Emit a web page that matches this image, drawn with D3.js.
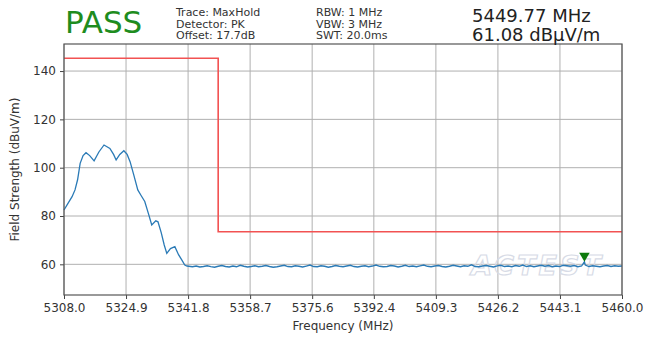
<!DOCTYPE html>
<html>
<head>
<meta charset="utf-8">
<script src="https://cdn.jsdelivr.net/npm/d3@7"></script>
<style>
  body { margin: 0; background: #fff; }
  svg text { font-family: "DejaVu Sans", sans-serif; }
</style>
</head>
<body>
<div id="chart"></div>
<script>
const WIDTH = 658;
const HEIGHT = 337;
const MARGIN = { top: 44, right: 36, bottom: 42, left: 64 };

// tick labels
const xTicks = [5308.0, 5324.9, 5341.8, 5358.7, 5375.6, 5392.4, 5409.3, 5426.2, 5443.1, 5460.0];
const yTicks = [60, 80, 100, 120, 140];

// emission hump (MHz, dBuV/m)
const humpFreq = [5308.0, 5309.0, 5310.2, 5311.0, 5311.7, 5312.4, 5313.2, 5314.0, 5315.0, 5316.2,
                  5317.5, 5318.9, 5320.5, 5321.5, 5322.2, 5323.2, 5324.3, 5325.2, 5326.0, 5327.0,
                  5328.1, 5329.0, 5330.0, 5331.0, 5331.9, 5333.0, 5333.6, 5334.5, 5335.3, 5336.0,
                  5337.0, 5338.2, 5339.2, 5340.2, 5340.9, 5341.5];
const humpLevel = [82.5, 85.0, 88.0, 90.8, 95.0, 101.8, 105.0, 106.2, 105.0, 102.8,
                   106.5, 109.4, 108.0, 105.5, 103.2, 105.5, 107.0, 105.5, 102.5, 97.0,
                   90.8, 88.5, 86.0, 81.0, 76.3, 78.0, 77.6, 73.0, 68.0, 64.5,
                   66.5, 67.3, 64.0, 61.5, 59.7, 59.3];

// noise floor, 1 MHz steps from 5342 to 5460
const floorStart = 5342;
const floorStep = 1;
const floorLevel = [
  59.2,59.0,59.3,58.9,59.1,59.4,59.0,58.8,59.2,59.5,
  59.1,58.9,59.3,59.0,59.6,59.2,58.9,59.1,59.4,59.0,
  59.2,59.5,59.1,58.8,59.0,59.3,59.6,59.1,59.0,59.4,
  59.2,58.9,59.3,59.7,59.1,59.0,59.4,59.2,58.8,59.1,
  59.5,59.2,59.0,59.3,59.6,59.1,58.9,59.2,59.4,59.0,
  59.3,59.7,59.2,59.0,59.1,59.5,59.3,58.9,59.2,59.6,
  59.1,59.3,59.0,59.4,59.7,59.2,59.0,59.3,59.5,59.1,
  58.9,59.2,59.6,59.3,59.0,59.4,59.2,59.8,59.1,59.0,
  59.3,59.5,59.2,58.9,59.4,59.6,59.1,59.3,59.0,59.5,
  59.2,59.7,59.1,59.4,59.0,59.3,59.6,59.2,59.5,59.0,
  59.3,59.1,59.6,59.4,59.2,59.5,59.0,59.3,59.7,59.1,
  59.4,59.2,59.0,59.3,59.5,59.1,59.4,59.2,59.3
];

// limit line
const limitFreq = [5308.0, 5350.0, 5350.0, 5460.0];
const limitLevel = [145.3, 145.3, 73.5, 73.5];

// marker
const markerFreq = 5449.77;
const markerLevel = 61.08;

const infoCol1 = ["Trace: MaxHold", "Detector: PK", "Offset: 17.7dB"];
const infoCol2 = ["RBW: 1 MHz", "VBW: 3 MHz", "SWT: 20.0ms"];
const markerText = ["5449.77 MHz", "61.08 dBµV/m"];

const trace = humpFreq.map((f, i) => [f, humpLevel[i]])
  .concat(floorLevel.map((v, i) => [floorStart + i * floorStep, v]))
  .concat([[markerFreq, markerLevel]])
  .sort((a, b) => a[0] - b[0]);

const innerW = WIDTH - MARGIN.left - MARGIN.right;
const innerH = HEIGHT - MARGIN.top - MARGIN.bottom;

const svg = d3.select("#chart").append("svg")
  .attr("width", WIDTH)
  .attr("height", HEIGHT);

const x = d3.scaleLinear().domain([5308, 5460]).range([0, innerW]);
const y = d3.scaleLinear().domain([47.3, 151.2]).range([innerH, 0]);

const g = svg.append("g")
  .attr("transform", `translate(${MARGIN.left},${MARGIN.top})`);

// grid
g.append("g").selectAll("line").data(xTicks).join("line")
  .attr("x1", d => x(d)).attr("x2", d => x(d))
  .attr("y1", 0).attr("y2", innerH)
  .attr("stroke", "#b0b0b0").attr("stroke-width", 1);
g.append("g").selectAll("line").data(yTicks).join("line")
  .attr("y1", d => y(d)).attr("y2", d => y(d))
  .attr("x1", 0).attr("x2", innerW)
  .attr("stroke", "#b0b0b0").attr("stroke-width", 1);

// watermark
g.append("text")
  .attr("x", x(5437)).attr("y", y(55.5))
  .attr("font-size", 27).attr("font-style", "italic").attr("font-weight", "bold")
  .attr("text-anchor", "middle")
  .attr("fill", "none").attr("stroke", "#d7dbe6").attr("stroke-width", 1.2)
  .attr("letter-spacing", 3)
  .text("ACTEST");

// limit
const line = d3.line().x(d => x(d[0])).y(d => y(d[1]));
g.append("path")
  .datum(limitFreq.map((f, i) => [f, limitLevel[i]]))
  .attr("d", line)
  .attr("fill", "none")
  .attr("stroke", "#f25252")
  .attr("stroke-width", 1.6);

// trace
g.append("path")
  .datum(trace)
  .attr("d", line)
  .attr("fill", "none")
  .attr("stroke", "#2a7ab6")
  .attr("stroke-width", 1.3);

// marker triangle
g.append("path")
  .attr("d", d3.symbol().type(d3.symbolTriangle).size(48)())
  .attr("transform", `translate(${x(markerFreq)},${y(markerLevel) - 6}) rotate(180)`)
  .attr("fill", "#0d7a0d");

// axes
const xAxis = d3.axisBottom(x).tickValues(xTicks).tickFormat(d3.format(".1f")).tickSize(4).tickPadding(4);
const yAxis = d3.axisLeft(y).tickValues(yTicks).tickSize(4).tickPadding(4);

const gx = g.append("g").attr("transform", `translate(0,${innerH})`).call(xAxis);
const gy = g.append("g").call(yAxis);
[gx, gy].forEach(a => {
  a.select(".domain").remove();
  a.selectAll("text").attr("font-size", 12).attr("fill", "#333")
    .attr("font-family", "DejaVu Sans, sans-serif");
  a.selectAll("line").attr("stroke", "#444");
});

// frame
g.append("rect")
  .attr("width", innerW).attr("height", innerH)
  .attr("fill", "none").attr("stroke", "#555").attr("stroke-width", 1.2);

// axis labels
svg.append("text")
  .attr("x", MARGIN.left + innerW / 2).attr("y", 330)
  .attr("text-anchor", "middle").attr("font-size", 12).attr("fill", "#333")
  .text("Frequency (MHz)");
svg.append("text")
  .attr("transform", `translate(19,${MARGIN.top + innerH / 2}) rotate(-90)`)
  .attr("text-anchor", "middle").attr("font-size", 12).attr("fill", "#333")
  .text("Field Strength (dBuV/m)");

// header
svg.append("text")
  .attr("x", 65).attr("y", 33)
  .attr("font-size", 31).attr("fill", "#1e8c1e")
  .text("PASS");

svg.append("g").selectAll("text").data(infoCol1).join("text")
  .attr("x", 176).attr("y", (d, i) => 16 + i * 11.5)
  .attr("font-size", 11).attr("fill", "#333")
  .text(d => d);
svg.append("g").selectAll("text").data(infoCol2).join("text")
  .attr("x", 316).attr("y", (d, i) => 16 + i * 11.5)
  .attr("font-size", 11).attr("fill", "#333")
  .text(d => d);
svg.append("g").selectAll("text").data(markerText).join("text")
  .attr("x", 472).attr("y", (d, i) => 22 + i * 19)
  .attr("font-size", 18).attr("fill", "#222")
  .text(d => d);
</script>
</body>
</html>
